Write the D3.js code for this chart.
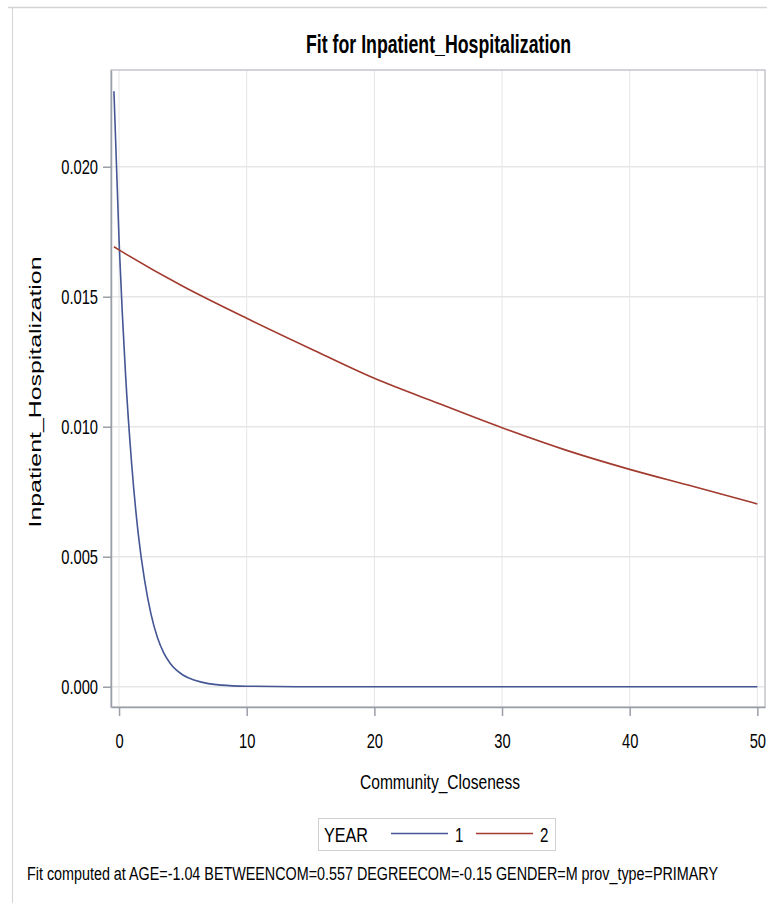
<!DOCTYPE html>
<html>
<head>
<meta charset="utf-8">
<script src="https://cdn.jsdelivr.net/npm/d3@7"></script>
<style>
  body { margin: 0; background: #fff; }
  text { fill: #000; font-family: "Liberation Sans", Arial, sans-serif; }
</style>
</head>
<body>
<script>
const w = 767;
const h = 905;

// values
const year1X = [-0.4, 0, 0.5, 1, 1.5, 2, 2.5, 3, 3.5, 4, 5, 6, 7, 8, 10, 15, 20, 30, 40, 50];
const year1Y = [0.0229, 0.0172, 0.0121, 0.0085, 0.0059, 0.0041, 0.0028, 0.0019, 0.0013, 0.0009,
  0.00045, 0.00024, 0.00012, 0.00006, 0.00002, 0.0, 0.0, 0.0, 0.0, 0.0];
const year2X = [-0.4, 0, 5, 10, 15, 20, 25, 30, 35, 40, 45, 50];
const year2Y = [0.01692, 0.0168, 0.0154, 0.01417, 0.0130, 0.01186, 0.0109, 0.00996, 0.0091, 0.00836, 0.0077, 0.00703];
const xTicks = [0, 10, 20, 30, 40, 50];
const yTicks = [0, 0.005, 0.010, 0.015, 0.020];
const years = ['1', '2'];
const colors = ['#445694', '#A23A2E'];

const pl = 111, pr = 765, pt = 70, pb = 707;

// the picture's text is tall and narrow, squeeze it sideways
function squeeze(sel, f) {
  sel.each(function () {
    const len = this.getComputedTextLength();
    d3.select(this).attr('textLength', len * f).attr('lengthAdjust', 'spacingAndGlyphs');
  });
}

const svg = d3.select('body')
  .append('svg')
  .attr('width', w)
  .attr('height', h);

// outer frame
svg.append('line').attr('x1', 8).attr('x2', w).attr('y1', 7.5).attr('y2', 7.5)
  .attr('stroke', '#d4d4d4').attr('stroke-width', 1.5);
svg.append('line').attr('x1', 12.5).attr('x2', 12.5).attr('y1', 7).attr('y2', 903)
  .attr('stroke', '#d4d4d4').attr('stroke-width', 1);

const xScale = d3.scaleLinear().domain([-0.63, 50.6]).range([pl, pr]);
const yScale = d3.scaleLinear().domain([-0.00078, 0.02372]).range([pb, pt]);

// grid
svg.append('g').selectAll('line').data(xTicks).enter().append('line')
  .attr('x1', d => xScale(d)).attr('x2', d => xScale(d))
  .attr('y1', pt).attr('y2', pb)
  .attr('stroke', '#e6e6e6');
svg.append('g').selectAll('line').data(yTicks).enter().append('line')
  .attr('x1', pl).attr('x2', pr)
  .attr('y1', d => yScale(d)).attr('y2', d => yScale(d))
  .attr('stroke', '#e6e6e6').attr('stroke-width', 1.5);

// plot frame
svg.append('rect').attr('x', pl).attr('y', pt)
  .attr('width', pr - pl).attr('height', pb - pt)
  .attr('fill', 'none').attr('stroke', '#c4c6cb').attr('stroke-width', 1.5);

// curves
const line = d3.line()
  .x(d => xScale(d[0]))
  .y(d => yScale(d[1]))
  .curve(d3.curveMonotoneX);

const series = [d3.zip(year1X, year1Y), d3.zip(year2X, year2Y)];
svg.append('g').selectAll('path').data(series).enter().append('path')
  .attr('d', line)
  .attr('fill', 'none')
  .attr('stroke', (d, i) => colors[i])
  .attr('stroke-width', 1.6);

// axes
const xAxis = d3.axisBottom(xScale).tickValues(xTicks).tickSize(9).tickSizeOuter(0).tickPadding(16);
const yAxis = d3.axisLeft(yScale).tickValues(yTicks).tickSize(8).tickSizeOuter(0).tickPadding(5)
  .tickFormat(d3.format('.3f'));

const gx = svg.append('g')
  .attr('transform', 'translate(0,' + pb + ')')
  .call(xAxis);
const gy = svg.append('g')
  .attr('transform', 'translate(' + pl + ',0)')
  .call(yAxis);

[gx, gy].forEach(g => {
  g.select('.domain').attr('stroke', '#9a9ea6').attr('stroke-width', 1.5);
  g.selectAll('.tick line').attr('stroke', '#9a9ea6').attr('stroke-width', 1.5);
  g.selectAll('.tick text')
    .style('font-family', '"Liberation Sans", Arial, sans-serif')
    .style('font-size', '21px').attr('fill', '#000')
    .call(squeeze, 0.7);
});
gx.selectAll('.tick text').attr('dy', '0').attr('y', 41);

// titles
svg.append('text')
  .attr('x', 438.5).attr('y', 53)
  .attr('text-anchor', 'middle')
  .style('font-size', '25px').style('font-weight', 'bold')
  .attr('textLength', 265).attr('lengthAdjust', 'spacingAndGlyphs')
  .text('Fit for Inpatient_Hospitalization');

svg.append('text')
  .attr('x', 440).attr('y', 789)
  .attr('text-anchor', 'middle')
  .style('font-size', '20px')
  .attr('textLength', 160).attr('lengthAdjust', 'spacingAndGlyphs')
  .text('Community_Closeness');

svg.append('text')
  .attr('transform', 'translate(41,392) rotate(-90)')
  .attr('text-anchor', 'middle')
  .style('font-size', '17px')
  .attr('textLength', 271).attr('lengthAdjust', 'spacingAndGlyphs')
  .text('Inpatient_Hospitalization');

// legend
const legend = svg.append('g');
legend.append('rect').attr('x', 318.5).attr('y', 818.5).attr('width', 237).attr('height', 32)
  .attr('fill', '#fff').attr('stroke', '#d0d0d0');
legend.append('text').attr('x', 324).attr('y', 842)
  .style('font-size', '21px')
  .attr('textLength', 44).attr('lengthAdjust', 'spacingAndGlyphs')
  .text('YEAR');
const items = legend.selectAll('g.item').data(years).enter().append('g').attr('class', 'item')
  .attr('transform', (d, i) => 'translate(' + (391 + i * 85) + ',0)');
items.append('line').attr('x1', 0).attr('x2', 57).attr('y1', 833.5).attr('y2', 833.5)
  .attr('stroke', (d, i) => colors[i]).attr('stroke-width', 1.6);
items.append('text').attr('x', 64).attr('y', 842)
  .style('font-size', '21px').text(d => d)
  .call(squeeze, 0.72);

// footnote
svg.append('text')
  .attr('x', 27).attr('y', 880)
  .style('font-size', '18px')
  .attr('textLength', 691).attr('lengthAdjust', 'spacingAndGlyphs')
  .text('Fit computed at AGE=-1.04 BETWEENCOM=0.557 DEGREECOM=-0.15 GENDER=M prov_type=PRIMARY');
</script>
</body>
</html>
